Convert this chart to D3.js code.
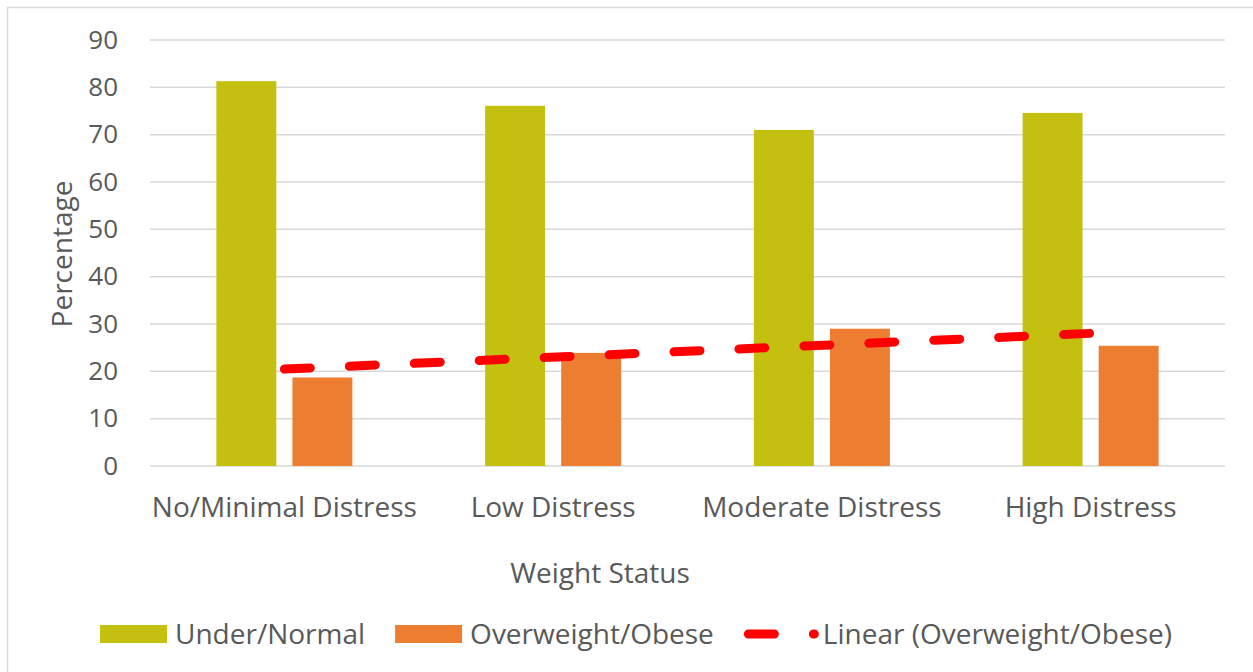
<!DOCTYPE html>
<html>
<head>
<meta charset="utf-8">
<script src="https://cdn.jsdelivr.net/npm/d3@7"></script>
<style>
  html, body { margin: 0; padding: 0; background: #ffffff; }
  svg { display: block; }
  text { font-family: "Open Sans", sans-serif; fill: #595959; }
</style>
</head>
<body>
<svg id="chart" width="1253" height="672"></svg>
<script>
// Distress level categories and the share of each weight group (%)
const categories = ["No/Minimal Distress", "Low Distress", "Moderate Distress", "High Distress"];
const underNormal = [81.3, 76.1, 71.0, 74.6];
const overweightObese = [18.7, 23.9, 29.0, 25.4];
const yTicks = [0, 10, 20, 30, 40, 50, 60, 70, 80, 90];
const seriesNames = ["Under/Normal", "Overweight/Obese", "Linear (Overweight/Obese)"];

const colors = { under: "#c3c00f", over: "#ed7d31", trend: "#ff0000", grid: "#d9d9d9" };

const svg = d3.select("#chart");
const W = 1253, H = 672;
const plot = { left: 150, right: 1225, top: 40, bottom: 466 };

// chart frame
svg.append("rect")
  .attr("x", 7.5).attr("y", 7.5)
  .attr("width", W + 20).attr("height", H + 20)
  .attr("fill", "#ffffff").attr("stroke", colors.grid).attr("stroke-width", 1.5);

const x = d3.scaleBand().domain(categories).range([plot.left, plot.right]).padding(0);
const y = d3.scaleLinear().domain([0, 90]).range([plot.bottom, plot.top]);

// horizontal gridlines
svg.append("g")
  .selectAll("line").data(yTicks).join("line")
  .attr("x1", plot.left).attr("x2", plot.right)
  .attr("y1", d => y(d)).attr("y2", d => y(d))
  .attr("stroke", colors.grid).attr("stroke-width", 1.5);

// y axis labels
const yAxis = d3.axisLeft(y).tickValues(yTicks).tickSize(0).tickPadding(32);
const gy = svg.append("g").attr("transform", `translate(${plot.left},0)`).call(yAxis);
gy.select(".domain").remove();
gy.selectAll("text").style("font-size", "26px").attr("fill", "#595959")
  .style("font-family", "'Open Sans', sans-serif");

// x axis labels
const xAxis = d3.axisBottom(x).tickSize(0).tickPadding(31);
const gx = svg.append("g").attr("transform", `translate(0,${plot.bottom})`).call(xAxis);
gx.select(".domain").remove();
gx.selectAll("text").style("font-size", "28px").attr("fill", "#595959")
  .style("font-family", "'Open Sans', sans-serif");

// bars
const bw = x.bandwidth();
const barW = bw * 0.223;
const gap = bw * 0.06;
const groupW = barW * 2 + gap;

svg.append("g").selectAll("rect").data(categories).join("rect")
  .attr("x", d => x(d) + (bw - groupW) / 2)
  .attr("y", (d, i) => y(underNormal[i]))
  .attr("width", barW)
  .attr("height", (d, i) => y(0) - y(underNormal[i]))
  .attr("fill", colors.under);

svg.append("g").selectAll("rect").data(categories).join("rect")
  .attr("x", d => x(d) + (bw - groupW) / 2 + barW + gap)
  .attr("y", (d, i) => y(overweightObese[i]))
  .attr("width", barW)
  .attr("height", (d, i) => y(0) - y(overweightObese[i]))
  .attr("fill", colors.over);

// least-squares trend of Overweight/Obese across the categories
const n = overweightObese.length;
const xs = d3.range(1, n + 1);
const mx = d3.mean(xs), my = d3.mean(overweightObese);
const slope = d3.sum(xs, (v, i) => (v - mx) * (overweightObese[i] - my)) / d3.sum(xs, v => (v - mx) ** 2);
const intercept = my - slope * mx;
const trendPts = [0, n - 1].map(i => [x(categories[i]) + bw / 2, y(intercept + slope * xs[i])]);

svg.append("path")
  .attr("d", d3.line()(trendPts))
  .attr("fill", "none").attr("stroke", colors.trend)
  .attr("stroke-width", 9).attr("stroke-linecap", "round")
  .attr("stroke-dasharray", "26 39");

// axis titles
svg.append("text")
  .attr("x", 600).attr("y", 583)
  .attr("text-anchor", "middle").style("font-size", "28px")
  .text("Weight Status");

svg.append("text")
  .attr("transform", `translate(72,254) rotate(-90)`)
  .attr("text-anchor", "middle").style("font-size", "28px")
  .text("Percentage");

// legend
const legend = svg.append("g");
const ly = 634;
let cx = 0;
seriesNames.forEach((name, i) => {
  const g = legend.append("g");
  if (i < 2) {
    g.append("rect").attr("x", cx).attr("y", ly - 9).attr("width", 67).attr("height", 18)
      .attr("fill", i === 0 ? colors.under : colors.over);
    cx += 75;
  } else {
    g.append("line").attr("x1", cx + 4.5).attr("x2", cx + 70.5).attr("y1", ly).attr("y2", ly)
      .attr("stroke", colors.trend).attr("stroke-width", 9).attr("stroke-linecap", "round")
      .attr("stroke-dasharray", "26 39");
    cx += 79;
  }
  const t = g.append("text").attr("x", cx).attr("y", ly + 10).style("font-size", "28px").text(name);
  cx += t.node().getComputedTextLength() + 30;
});
const legendW = cx - 30;
legend.attr("transform", `translate(${636 - legendW / 2},0)`);
</script>
</body>
</html>
